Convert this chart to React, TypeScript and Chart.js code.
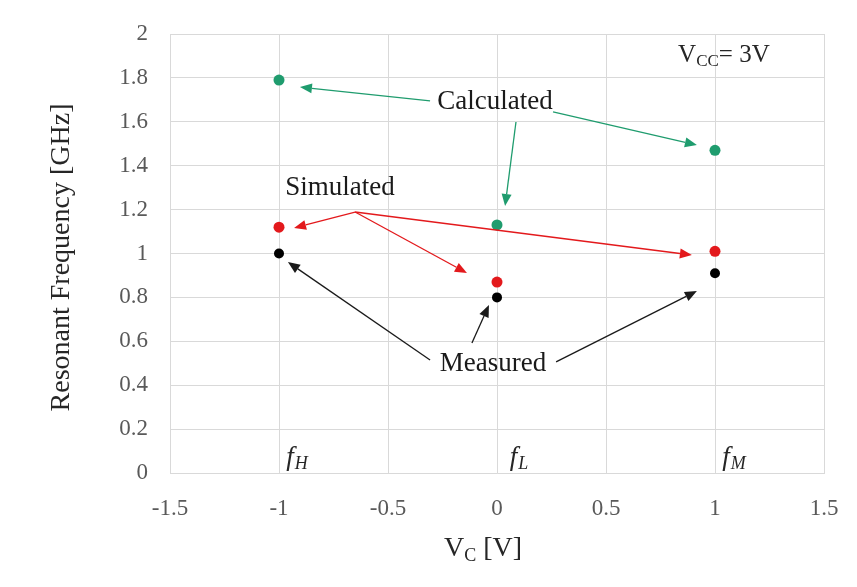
import React, { useEffect, useRef } from "react";
import { Chart, registerables } from "chart.js";

Chart.register(...registerables);

// ---- data ----
const voltages = [-1, 0, 1];
const calculated = [1.79, 1.13, 1.47];
const simulated = [1.12, 0.87, 1.01];
const measured = [1.0, 0.8, 0.91];

const xTickLabels = ["-1.5", "-1", "-0.5", "0", "0.5", "1", "1.5"];
const yTickLabels = ["0", "0.2", "0.4", "0.6", "0.8", "1", "1.2", "1.4", "1.6", "1.8", "2"];

// annotation arrows in data units: [fromX, fromY, toX, toY]
const calcArrows = [
  [-0.307, 1.695, -0.904, 1.758],
  [0.087, 1.599, 0.037, 1.216],
  [0.257, 1.645, 0.917, 1.494],
];
const simArrows = [
  [-0.651, 1.189, -0.931, 1.116],
  [-0.651, 1.189, -0.138, 0.911],
  [-0.651, 1.189, 0.894, 0.993],
];
const measArrows = [
  [-0.307, 0.515, -0.959, 0.961],
  [-0.115, 0.592, -0.037, 0.765],
  [0.271, 0.506, 0.917, 0.829],
];
// annotation labels (center, data units)
const labelTexts = ["Calculated", "Simulated", "Measured"];
const labelPos = [
  [-0.009, 1.69],
  [-0.72, 1.298],
  [-0.018, 0.497],
];
const stateNames = ["H", "L", "M"];
const statePos = [
  [-0.917, 0.068],
  [0.101, 0.068],
  [1.087, 0.068],
];
const vccPos = [1.041, 1.904];

const GREEN = "#1f9c6e";
const RED = "#e3191c";
const BLACK = "#000000";
const SERIF = '"Liberation Serif", "Times New Roman", serif';

const annotPlugin = {
  id: "annot",
  afterDatasetsDraw(chart: any) {
    const { ctx, scales } = chart;
    const xs = scales.x;
    const ys = scales.y;
    const px = (v: number) => xs.getPixelForValue(v);
    const py = (v: number) => ys.getPixelForValue(v);

    const arrow = (a: number[], color: string) => {
      const x1 = px(a[0]), y1 = py(a[1]), x2 = px(a[2]), y2 = py(a[3]);
      const ang = Math.atan2(y2 - y1, x2 - x1);
      const L = 12, W = 5;
      const bx = x2 - L * Math.cos(ang), by = y2 - L * Math.sin(ang);
      ctx.save();
      ctx.strokeStyle = color;
      ctx.fillStyle = color;
      ctx.lineWidth = 1.3;
      ctx.beginPath();
      ctx.moveTo(x1, y1);
      ctx.lineTo(bx, by);
      ctx.stroke();
      ctx.beginPath();
      ctx.moveTo(x2, y2);
      ctx.lineTo(bx + W * Math.sin(ang), by - W * Math.cos(ang));
      ctx.lineTo(bx - W * Math.sin(ang), by + W * Math.cos(ang));
      ctx.closePath();
      ctx.fill();
      ctx.restore();
    };
    calcArrows.forEach((a) => arrow(a, GREEN));
    simArrows.forEach((a) => arrow(a, RED));
    measArrows.forEach((a) => arrow(a, "#1a1a1a"));

    ctx.save();
    ctx.fillStyle = "#1a1a1a";
    ctx.textAlign = "center";
    ctx.textBaseline = "middle";
    ctx.font = `27px ${SERIF}`;
    labelTexts.forEach((t, i) => {
      ctx.fillText(t, px(labelPos[i][0]), py(labelPos[i][1]));
    });

    // f_H, f_L, f_M
    statePos.forEach((p, i) => {
      const cx = px(p[0]), cy = py(p[1]);
      ctx.font = `italic 27px ${SERIF}`;
      const w1 = ctx.measureText("f").width;
      ctx.font = `italic 18px ${SERIF}`;
      const w2 = ctx.measureText(stateNames[i]).width;
      const start = cx - (w1 + w2 + 1) / 2;
      ctx.textAlign = "left";
      ctx.fillStyle = "#262626";
      ctx.font = `italic 27px ${SERIF}`;
      ctx.fillText("f", start, cy);
      ctx.font = `italic 18px ${SERIF}`;
      ctx.fillText(stateNames[i], start + w1 + 1, cy + 6);
    });

    // V_CC= 3V
    {
      const cx = px(vccPos[0]), cy = py(vccPos[1]);
      ctx.font = `25px ${SERIF}`;
      const wV = ctx.measureText("V").width;
      const wR = ctx.measureText("= 3V").width;
      ctx.font = `17px ${SERIF}`;
      const wS = ctx.measureText("CC").width;
      const start = cx - (wV + wS + wR) / 2;
      ctx.textAlign = "left";
      ctx.fillStyle = "#262626";
      ctx.font = `25px ${SERIF}`;
      ctx.fillText("V", start, cy);
      ctx.font = `17px ${SERIF}`;
      ctx.fillText("CC", start + wV, cy + 6);
      ctx.font = `25px ${SERIF}`;
      ctx.fillText("= 3V", start + wV + wS, cy);
    }
    ctx.restore();
  },
  afterDraw(chart: any) {
    const { ctx, chartArea } = chart;
    ctx.save();
    ctx.fillStyle = "#262626";
    ctx.textBaseline = "middle";
    // y title
    ctx.save();
    ctx.translate(54, (chartArea.top + chartArea.bottom) / 2 + 4);
    ctx.rotate(-Math.PI / 2);
    ctx.textAlign = "center";
    ctx.font = `28px ${SERIF}`;
    ctx.fillText("Resonant Frequency [GHz]", 0, 0);
    ctx.restore();
    // x title: V_C [V]
    const cx = (chartArea.left + chartArea.right) / 2 - 14;
    const cy = chartArea.bottom + 76;
    ctx.font = `28px ${SERIF}`;
    const wV = ctx.measureText("V").width;
    const wR = ctx.measureText(" [V]").width;
    ctx.font = `18px ${SERIF}`;
    const wS = ctx.measureText("C").width;
    const start = cx - (wV + wS + wR) / 2;
    ctx.textAlign = "left";
    ctx.font = `28px ${SERIF}`;
    ctx.fillText("V", start, cy);
    ctx.font = `18px ${SERIF}`;
    ctx.fillText("C", start + wV, cy + 7);
    ctx.font = `28px ${SERIF}`;
    ctx.fillText(" [V]", start + wV + wS, cy);
    ctx.restore();
  },
};

const zeroPad = (axis: any) => {
  axis.paddingTop = 0;
  axis.paddingBottom = 0;
  axis.paddingLeft = 0;
  axis.paddingRight = 0;
};

export default function App() {
  const ref = useRef<HTMLCanvasElement | null>(null);

  useEffect(() => {
    if (!ref.current) return;
    const mk = (vals: number[]) => voltages.map((v, i) => ({ x: v, y: vals[i] }));
    const chart = new Chart(ref.current, {
      type: "scatter",
      data: {
        datasets: [
          { label: "Calculated", data: mk(calculated), backgroundColor: GREEN, borderColor: GREEN, pointRadius: 5.5, borderWidth: 0 },
          { label: "Simulated", data: mk(simulated), backgroundColor: RED, borderColor: RED, pointRadius: 5.5, borderWidth: 0 },
          { label: "Measured", data: mk(measured), backgroundColor: BLACK, borderColor: BLACK, pointRadius: 5, borderWidth: 0 },
        ],
      },
      options: {
        responsive: false,
        animation: false,
        layout: { padding: { left: 0, right: 25, top: 26, bottom: 0 } },
        plugins: { legend: { display: false }, tooltip: { enabled: false } },
        scales: {
          x: {
            type: "linear",
            min: -1.5,
            max: 1.5,
            afterFit: (axis: any) => { axis.height = 106; zeroPad(axis); },
            ticks: {
              stepSize: 0.5,
              padding: 22,
              color: "#595959",
              font: { family: SERIF, size: 23 },
              callback: (_v: any, i: number) => xTickLabels[i],
            },
            grid: { color: "#d9d9d9", lineWidth: 1, drawTicks: false },
            border: { display: true, color: "#d9d9d9" },
          },
          y: {
            type: "linear",
            min: 0,
            max: 2,
            afterFit: (axis: any) => { axis.width = 162; zeroPad(axis); },
            ticks: {
              stepSize: 0.2,
              padding: 22,
              color: "#595959",
              font: { family: SERIF, size: 23 },
              callback: (_v: any, i: number) => yTickLabels[i],
            },
            grid: { color: "#d9d9d9", lineWidth: 1, drawTicks: false },
            border: { display: true, color: "#d9d9d9" },
          },
        },
      },
      plugins: [annotPlugin],
    });
    return () => chart.destroy();
  }, []);

  return (
    <div style={{ width: 841, height: 571 }}>
      <canvas ref={ref} width={841} height={571} />
    </div>
  );
}
